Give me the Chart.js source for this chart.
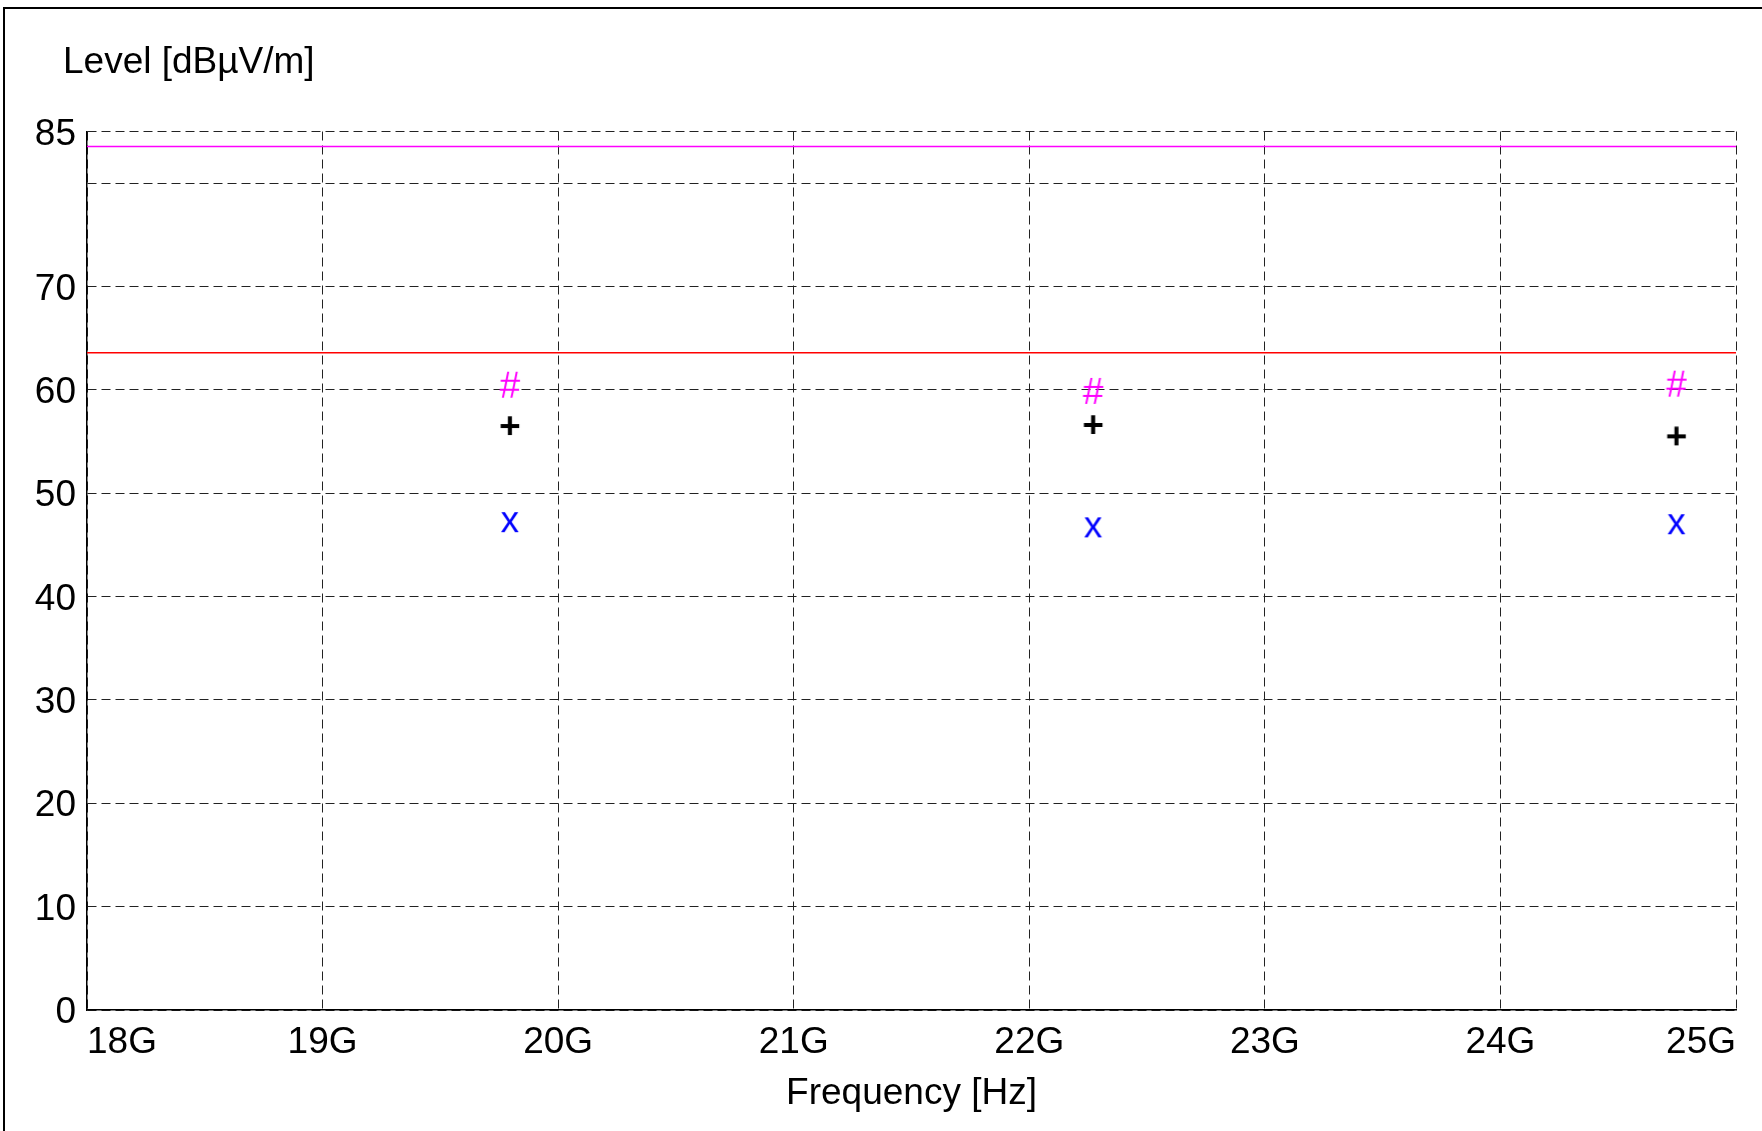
<!DOCTYPE html>
<html>
<head>
<meta charset="utf-8">
<script src="https://cdn.jsdelivr.net/npm/chart.js@4.4.1/dist/chart.umd.min.js"></script>
<style>
  html,body{margin:0;padding:0;background:#fff;}
  canvas{display:block;}
</style>
</head>
<body>
<canvas id="chart" width="1762" height="1131"></canvas>
<script>
// measured values (frequency in Hz, level in dBuV/m)
const freqs     = [19.796e9, 22.272e9, 24.748e9];
const peakVals  = [60.5, 59.9, 60.6];   // "#" magenta
const qpVals    = [56.6, 56.7, 55.6];   // "+" black
const avgVals   = [47.2, 46.7, 47.0];   // "x" blue
const limitFreqs = [18e9, 25e9];
const limitPeak  = [83.55, 83.55];      // magenta line
const limitAvg   = [63.6, 63.6];        // red line
const yTicks = [0, 10, 20, 30, 40, 50, 60, 70, 80, 85];
const yLabelSkip = [80];
const xTicksG = [18, 19, 20, 21, 22, 23, 24, 25];

const FONT = "'Liberation Sans', Arial, sans-serif";
const FS = 37;

// text glyph as point marker, centred on its ink
function glyph(ch, color, weight){
  const c = document.createElement('canvas');
  c.width = 46; c.height = 46;
  const g = c.getContext('2d');
  g.font = (weight||'') + ' ' + FS + 'px ' + FONT;
  g.fillStyle = color;
  g.textBaseline = 'alphabetic';
  const m = g.measureText(ch);
  const w = m.actualBoundingBoxRight + m.actualBoundingBoxLeft;
  const h = m.actualBoundingBoxAscent + m.actualBoundingBoxDescent;
  const x = 23 - w/2 + m.actualBoundingBoxLeft;
  const y = 23 - h/2 + m.actualBoundingBoxAscent;
  g.fillText(ch, x, y);
  return c;
}

const pts = vals => vals.map((v,i)=>({x:freqs[i], y:v}));
const lim = vals => vals.map((v,i)=>({x:limitFreqs[i], y:v}));

// title + frame
const decor = {
  id:'decor',
  afterDraw(chart){
    const ctx = chart.ctx;
    ctx.save();
    ctx.strokeStyle = '#000';
    ctx.lineWidth = 2;
    ctx.beginPath();
    ctx.moveTo(4, 1131); ctx.lineTo(4, 8); ctx.lineTo(1762, 8);
    ctx.stroke();
    ctx.fillStyle = '#000';
    ctx.font = FS + 'px ' + FONT;
    ctx.textBaseline = 'alphabetic';
    ctx.fillText('Level [dBµV/m]', 63, 73);
    ctx.restore();
  }
};

new Chart(document.getElementById('chart'), {
  type:'scatter',
  data:{
    datasets:[
      {type:'line', data:lim(limitPeak), borderColor:'#ff00ff', borderWidth:1.5, pointRadius:0, fill:false},
      {type:'line', data:lim(limitAvg),  borderColor:'#ff0000', borderWidth:1.5, pointRadius:0, fill:false},
      {data:pts(peakVals), pointStyle:glyph('#','#ff00ff')},
      {data:pts(qpVals),   pointStyle:glyph('+','#000000','bold')},
      {data:pts(avgVals),  pointStyle:glyph('x','#0000ff')}
    ]
  },
  options:{
    responsive:false,
    devicePixelRatio:1,
    animation:false,
    layout:{padding:{left:0, top:131.5, right:26, bottom:0}},
    plugins:{legend:{display:false}, tooltip:{enabled:false}},
    scales:{
      x:{
        type:'linear', min:18e9, max:25e9,
        afterBuildTicks: s => { s.ticks = xTicksG.map(v=>({value:v*1e9})); },
        afterFit: s => { s.height = 121; },
        ticks:{
          align:'inner', padding:11, color:'#000', maxRotation:0,
          font:{family:FONT, size:FS},
          callback: v => (v/1e9) + 'G'
        },
        grid:{color:'#222', lineWidth:1, drawTicks:false},
        border:{display:true, color:'#000', width:1.5, dash:[9,5]},
        title:{display:true, text:'Frequency [Hz]', color:'#000',
               font:{family:FONT, size:FS}, padding:{top:0, bottom:15}}
      },
      y:{
        min:0, max:85,
        afterBuildTicks: s => { s.ticks = yTicks.map(v=>({value:v})); },
        afterFit: s => { s.width = 87; },
        ticks:{
          padding:11, labelOffset:3, color:'#000',
          font:{family:FONT, size:FS},
          callback: v => yLabelSkip.includes(v) ? '' : v
        },
        grid:{color:'#222', lineWidth:1, drawTicks:false},
        border:{display:true, color:'#000', width:1.5, dash:[9,5]}
      }
    }
  },
  plugins:[decor]
});
</script>
</body>
</html>
